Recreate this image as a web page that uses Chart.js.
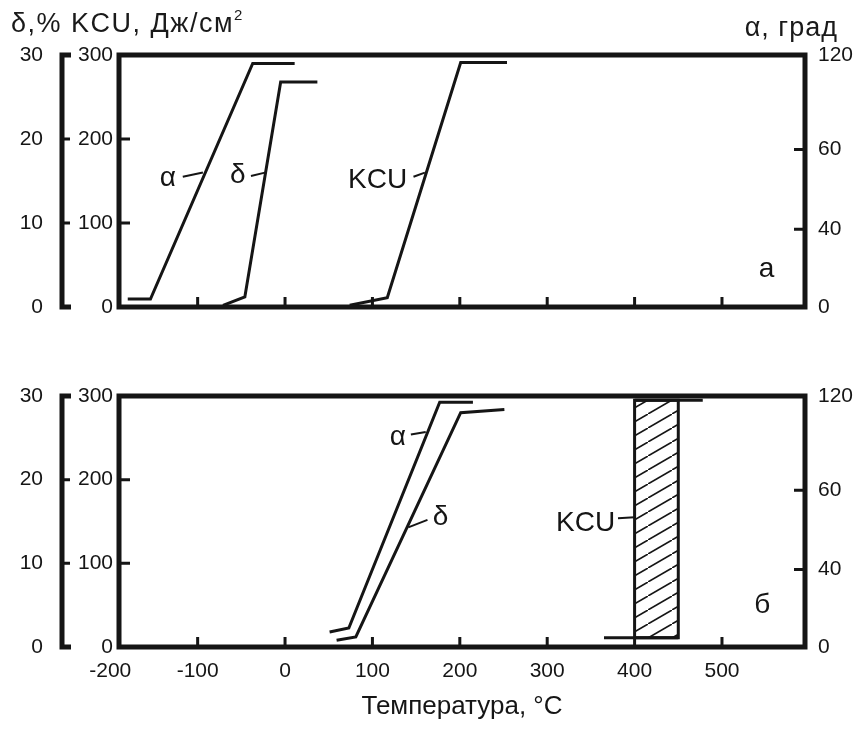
<!DOCTYPE html>
<html>
<head>
<meta charset="utf-8">
<script src="https://cdn.jsdelivr.net/npm/chart.js@4.4.1/dist/chart.umd.min.js"></script>
<style>
  body { margin: 0; background: #fff; width: 858px; height: 735px; overflow: hidden; position: relative;
         font-family: "Liberation Sans", Arial, sans-serif; color: #1a1a1a; }
  .wrap { position: absolute; left: 0; width: 858px; }
  #wrapA { top: 0; height: 340px; }
  #wrapB { top: 330px; height: 405px; }
  .cap { position: absolute; font-size: 27px; line-height: 1; letter-spacing: 1px; white-space: nowrap; z-index: 2; }
  .cap sup { font-size: 15px; vertical-align: 0; position: relative; top: -12px; letter-spacing: 0; }
</style>
</head>
<body>
<div class="cap" style="left:11px; top:10px; letter-spacing:1.5px">δ,% KCU, Дж/см<sup>2</sup></div>
<div class="cap" style="right:20px; top:14px">α, град</div>
<div class="wrap" id="wrapB"><canvas id="chartB" width="858" height="405"></canvas></div>
<div class="wrap" id="wrapA"><canvas id="chartA" width="858" height="340"></canvas></div>
<script>
// ось температур
var tempTicks = [-200, -100, 0, 100, 200, 300, 400, 500];
// левые шкалы: KCU (0..300) и δ (0..30)
var kcuTicks = [0, 100, 200, 300];
var deltaTicks = [0, 10, 20, 30];
// правая шкала α: в оригинале она неравномерная, подписи стоят вот в этих местах
var alphaTickLabels = ['0', '40', '60', '120'];
var alphaTickAt = [0, 37, 75, 120];

// а) исходное состояние
var aAlphaT = [-180, -154, -37, 11];
var aAlpha = [3.8, 3.8, 116, 116];
var aDeltaT = [-71, -46, -5, 37];
var aDelta = [0.2, 1.2, 26.8, 26.8];
var aKcuT = [74, 117, 201, 254];
var aKcu = [2, 11, 291, 291];

// б) после обработки
var bAlphaT = [51, 73, 177, 215];
var bAlpha = [7.2, 9.1, 117, 117];
var bDeltaT = [59, 81, 201, 251];
var bDelta = [0.8, 1.2, 28, 28.4];
// KCU - полоса разброса
var bKcuT = [400, 450];
var bKcuLow = 11;
var bKcuHigh = 295;
var bKcuTopT = [400, 478];
var bKcuBottomT = [365, 450];

var INK = '#151515';
var tickFont = { family: '"Liberation Sans", Arial, sans-serif', size: 21 };

function pts(xs, ys) {
  return xs.map(function (x, i) { return { x: x, y: ys[i] }; });
}
function flat(xs, y) {
  return xs.map(function (x) { return { x: x, y: y }; });
}
function curve(data, axis) {
  return { data: data, yAxisID: axis, showLine: true, borderColor: INK, borderWidth: 3,
           pointRadius: 0, fill: false, tension: 0 };
}

// рамка, внутренние засечки и скобка шкалы δ
var axesPlugin = {
  id: 'axesPlugin',
  afterDatasetsDraw: function (chart) {
    var ctx = chart.ctx, a = chart.chartArea, s = chart.scales;
    ctx.save();
    ctx.strokeStyle = INK;
    ctx.lineWidth = 5;
    ctx.strokeRect(a.left, a.top, a.right - a.left, a.bottom - a.top);
    ctx.lineWidth = 3;
    ctx.beginPath();
    tempTicks.forEach(function (t) {
      var px = s.x.getPixelForValue(t);
      if (px > a.left + 6 && px < a.right - 6) { ctx.moveTo(px, a.bottom); ctx.lineTo(px, a.bottom - 10); }
    });
    kcuTicks.slice(1, -1).forEach(function (v) {
      var py = s.y.getPixelForValue(v);
      ctx.moveTo(a.left, py); ctx.lineTo(a.left + 11, py);
    });
    alphaTickAt.slice(1, -1).forEach(function (v) {
      var py = s.ya.getPixelForValue(v);
      ctx.moveTo(a.right, py); ctx.lineTo(a.right - 11, py);
    });
    // засечки скобки
    var bx = s.yd.right;
    deltaTicks.slice(1, -1).forEach(function (v) {
      var py = s.yd.getPixelForValue(v);
      ctx.moveTo(bx, py); ctx.lineTo(bx + 8, py);
    });
    ctx.stroke();
    var y0 = s.yd.getPixelForValue(0), y1 = s.yd.getPixelForValue(30);
    ctx.lineWidth = 5;
    ctx.beginPath();
    ctx.moveTo(bx + 9, y1); ctx.lineTo(bx, y1); ctx.lineTo(bx, y0); ctx.lineTo(bx + 9, y0);
    ctx.stroke();
    ctx.restore();
  }
};

// подписи кривых с выносками
var notesPlugin = {
  id: 'notes',
  afterDatasetsDraw: function (chart, args, opts) {
    var ctx = chart.ctx, sx = chart.scales.x, sy = chart.scales.y;
    ctx.save();
    ctx.fillStyle = INK;
    ctx.strokeStyle = INK;
    ctx.lineWidth = 2;
    ctx.textAlign = 'center';
    ctx.textBaseline = 'middle';
    ctx.font = '28px "Liberation Sans", Arial, sans-serif';
    (opts.items || []).forEach(function (n) {
      ctx.fillText(n.text, sx.getPixelForValue(n.t), sy.getPixelForValue(n.v));
      if (n.lead) {
        ctx.beginPath();
        ctx.moveTo(sx.getPixelForValue(n.lead[0]), sy.getPixelForValue(n.lead[1]));
        ctx.lineTo(sx.getPixelForValue(n.lead[2]), sy.getPixelForValue(n.lead[3]));
        ctx.stroke();
      }
    });
    ctx.restore();
  }
};

function makeScales(showX) {
  return {
    x: {
      type: 'linear', min: -190, max: 595, display: showX,
      afterBuildTicks: function (sc) { sc.ticks = tempTicks.map(function (v) { return { value: v }; }); },
      afterFit: function (sc) { sc.height = showX ? 88 : 0; },
      grid: { display: false, drawTicks: false, tickLength: 0 },
      border: { display: false },
      ticks: { display: showX, autoSkip: false, maxRotation: 0, padding: 12, color: INK, font: tickFont },
      title: { display: showX, text: 'Температура, °C', color: INK, padding: { top: 0, bottom: 13 },
               font: { family: '"Liberation Sans", Arial, sans-serif', size: 26 } }
    },
    yd: {
      type: 'linear', position: 'left', weight: 1, min: 0, max: 30,
      afterBuildTicks: function (sc) { sc.ticks = deltaTicks.map(function (v) { return { value: v }; }); },
      afterFit: function (sc) { sc.width = 62; },
      grid: { display: false, drawTicks: false, tickLength: 0 },
      border: { display: false },
      ticks: { padding: 19, color: INK, font: tickFont }
    },
    y: {
      type: 'linear', position: 'left', weight: 0, min: 0, max: 300,
      afterBuildTicks: function (sc) { sc.ticks = kcuTicks.map(function (v) { return { value: v }; }); },
      afterFit: function (sc) { sc.width = 57; },
      grid: { display: false, drawTicks: false, tickLength: 0 },
      border: { display: false },
      ticks: { padding: 6, color: INK, font: tickFont }
    },
    ya: {
      type: 'linear', position: 'right', min: 0, max: 120,
      afterBuildTicks: function (sc) { sc.ticks = alphaTickAt.map(function (v) { return { value: v }; }); },
      afterFit: function (sc) { sc.width = 53; },
      grid: { display: false, drawTicks: false, tickLength: 0 },
      border: { display: false },
      ticks: { padding: 13, color: INK, font: tickFont,
               callback: function (v, i) { return alphaTickLabels[i]; } }
    }
  };
}

var common = {
  responsive: false,
  animation: false,
  events: [],
  plugins: { legend: { display: false }, tooltip: { enabled: false } }
};

new Chart(document.getElementById('chartA'), {
  type: 'scatter',
  data: {
    datasets: [
      curve(pts(aAlphaT, aAlpha), 'ya'),
      curve(pts(aDeltaT, aDelta), 'yd'),
      curve(pts(aKcuT, aKcu), 'y')
    ]
  },
  options: Object.assign({}, common, {
    // снизу место задаёт отступ подписей левой шкалы (~33px)
    layout: { padding: { top: 55, bottom: 33, left: 0, right: 0 } },
    scales: makeScales(false),
    plugins: Object.assign({}, common.plugins, {
      notes: { items: [
        { text: 'α', t: -134, v: 153, lead: [-117, 155, -94, 160] },
        { text: 'δ', t: -54, v: 157, lead: [-39, 156, -23, 160] },
        { text: 'KCU', t: 106, v: 151, lead: [147, 155, 160, 160] },
        { text: 'а', t: 551, v: 45 }
      ] }
    })
  }),
  plugins: [axesPlugin, notesPlugin]
});

// штриховка для полосы KCU
var canvasB = document.getElementById('chartB');
var tile = document.createElement('canvas');
tile.width = 24; tile.height = 14;
var tg = tile.getContext('2d');
tg.strokeStyle = INK; tg.lineWidth = 1.6;
tg.beginPath(); tg.moveTo(-2, 15.17); tg.lineTo(26, -1.17); tg.stroke();
var hatch = canvasB.getContext('2d').createPattern(tile, 'repeat');

var band = pts([bKcuT[0], bKcuT[0], bKcuT[1], bKcuT[1], bKcuT[0]], [bKcuLow, bKcuHigh, bKcuHigh, bKcuLow, bKcuLow]);
var bandSet = curve(band, 'y');
bandSet.fill = 'shape';
bandSet.backgroundColor = hatch;

new Chart(canvasB, {
  type: 'scatter',
  data: {
    datasets: [
      bandSet,
      curve(flat(bKcuTopT, bKcuHigh), 'y'),
      curve(flat(bKcuBottomT, bKcuLow), 'y'),
      curve(pts(bAlphaT, bAlpha), 'ya'),
      curve(pts(bDeltaT, bDelta), 'yd')
    ]
  },
  options: Object.assign({}, common, {
    layout: { padding: { top: 66, bottom: 0, left: 0, right: 0 } },
    scales: makeScales(true),
    plugins: Object.assign({}, common.plugins, {
      notes: { items: [
        { text: 'α', t: 129, v: 251, lead: [144, 254, 161, 257] },
        { text: 'δ', t: 178, v: 155, lead: [163, 152, 141, 143] },
        { text: 'KCU', t: 344, v: 148, lead: [381, 154, 400, 155] },
        { text: 'б', t: 546, v: 50 }
      ] }
    })
  }),
  plugins: [axesPlugin, notesPlugin]
});
</script>
</body>
</html>
